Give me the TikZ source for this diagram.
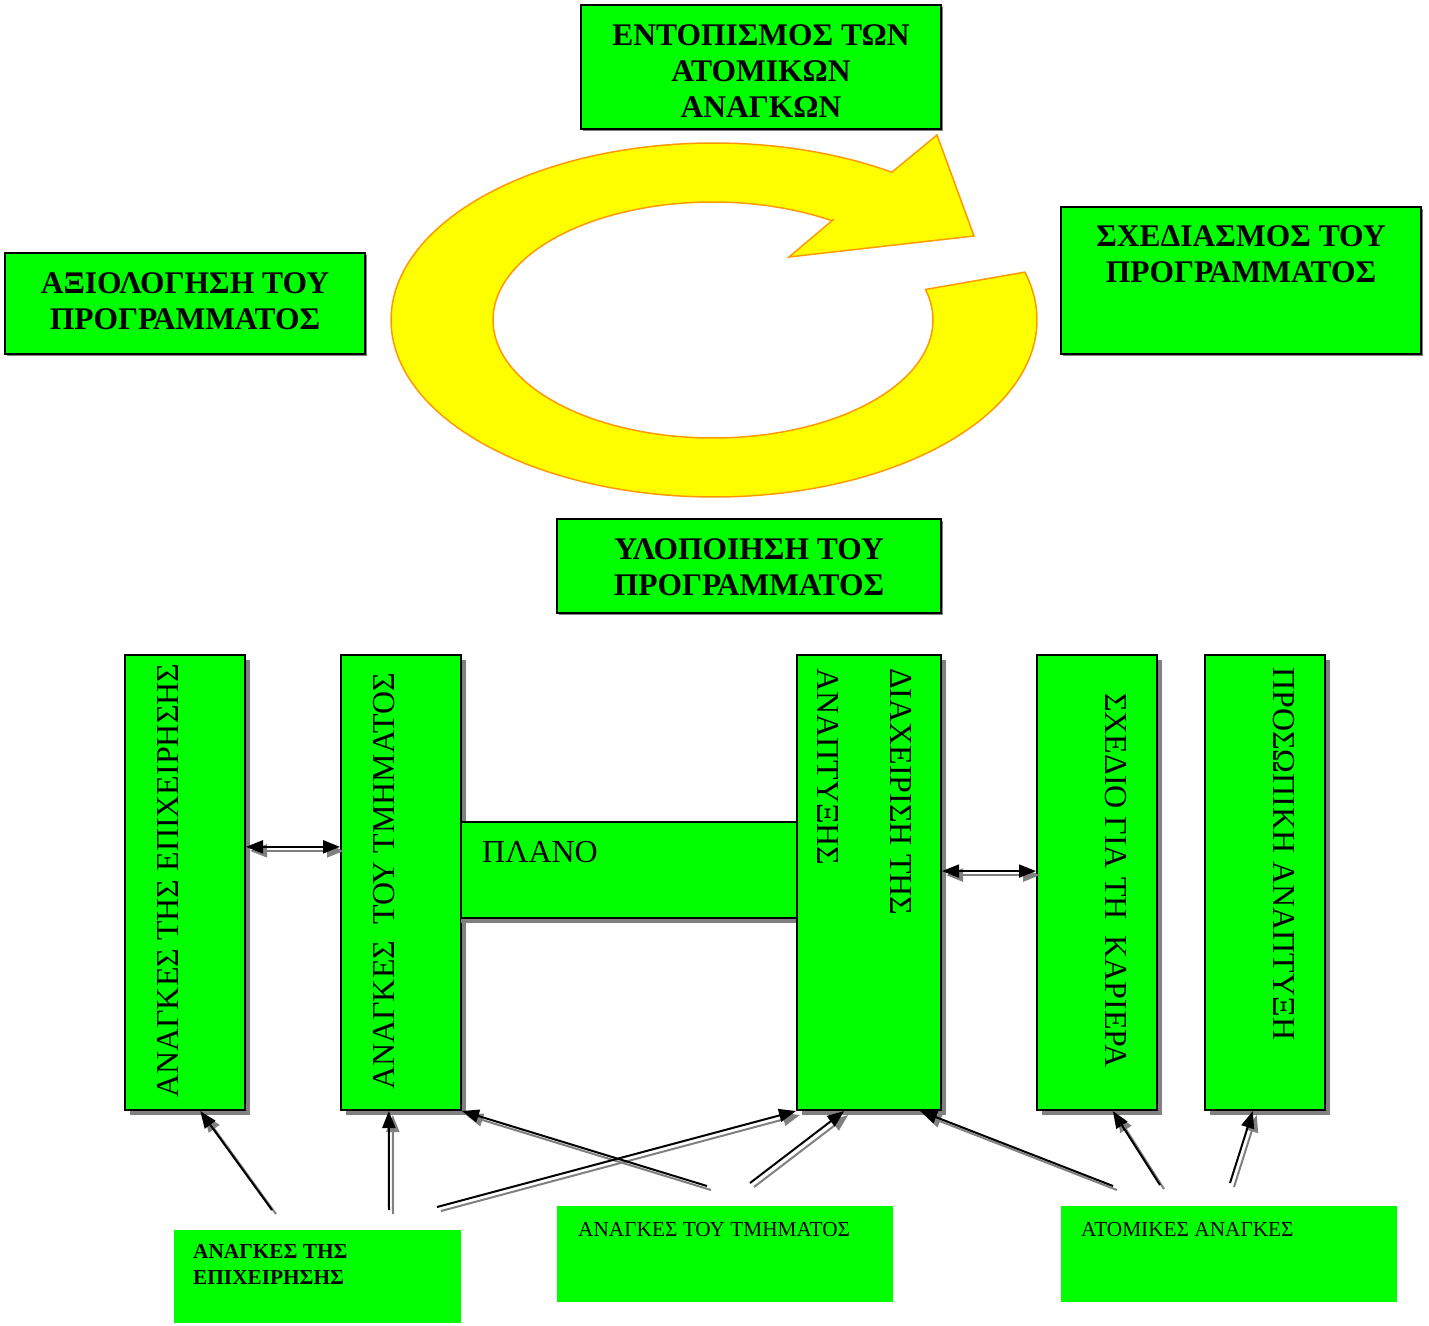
\documentclass[tikz,border=0pt]{standalone}
\usepackage{fontspec}
\setmainfont{Liberation Serif}
\usetikzlibrary{arrows.meta,calc,shadows}
\definecolor{boxgreen}{RGB}{0,255,0}
\definecolor{ringyellow}{RGB}{255,255,0}
\definecolor{ringedge}{RGB}{255,153,0}
\definecolor{shadowgray}{RGB}{128,128,128}

\begin{document}
\begin{tikzpicture}[x=1pt,y=-1pt,>={Triangle[length=17pt,width=13pt]},
    box/.style={draw=black,line width=2pt,fill=boxgreen,inner sep=0pt},
    topbox/.style={box,drop shadow={shadow xshift=2pt,shadow yshift=-2pt,fill=shadowgray,opacity=1}},
    colbox/.style={box,minimum height=455pt,drop shadow={shadow xshift=5pt,shadow yshift=-5pt,fill=shadowgray,opacity=1}},
    needbox/.style={fill=boxgreen,inner sep=0pt},
    bigtxt/.style={font=\fontsize{31.5}{36}\selectfont\bfseries,align=center,inner sep=0pt},
    coltxt/.style={font=\fontsize{32}{36}\selectfont,inner sep=0pt,anchor=base west},
    smalltxt/.style={font=\fontsize{21.3}{26}\selectfont,align=left,inner sep=0pt,anchor=north west},
    link/.style={->,line width=2pt},
    linkshadow/.style={link,shadowgray,transform canvas={xshift=4pt,yshift=-4pt}}]
    \useasboundingbox (0,0) rectangle (1429,1325);

    % 循环的四个阶段
    \node[topbox,minimum width=360pt,minimum height=124pt] (ento) at (761,67) {};
    \node[bigtxt] (entotxt) at (761,71) {ΕΝΤΟΠΙΣΜΟΣ ΤΩΝ\\ΑΤΟΜΙΚΩΝ\\ΑΝΑΓΚΩΝ};
    \node[topbox,minimum width=360pt,minimum height=147pt] (sxed) at (1241,280.5) {};
    \node[bigtxt] (sxedtxt) at (1241,254.5) {ΣΧΕΔΙΑΣΜΟΣ ΤΟΥ\\ΠΡΟΓΡΑΜΜΑΤΟΣ};
    \node[topbox,minimum width=360pt,minimum height=101pt] (axio) at (185,303.5) {};
    \node[bigtxt] (axiotxt) at (185,301.5) {ΑΞΙΟΛΟΓΗΣΗ ΤΟΥ\\ΠΡΟΓΡΑΜΜΑΤΟΣ};
    \node[topbox,minimum width=384pt,minimum height=94pt] (ylop) at (749,566) {};
    \node[bigtxt] (yloptxt) at (749,567.5) {ΥΛΟΠΟΙΗΣΗ ΤΟΥ\\ΠΡΟΓΡΑΜΜΑΤΟΣ};

    % 黄色环形箭头
    \filldraw[fill=ringyellow,draw=ringedge,line width=1.5pt,line join=miter]
        plot[domain=-15.7:303.4,samples=150] ({714+323*cos(\x)},{320+177*sin(\x)})
        -- (937,135) -- (974,236) -- (789,257) -- (834,219)
        -- plot[domain=302.7:-15,samples=150] ({713+220*cos(\x)},{320+118*sin(\x)})
        -- cycle;

    % 竖直方框与中间的横框
    \node[colbox,minimum width=120pt] (epix) at (185,882.5) {};
    \node[colbox,minimum width=120pt] (tmim) at (401,882.5) {};
    \node[box,minimum width=336pt,minimum height=96pt,drop shadow={shadow xshift=0pt,shadow yshift=-5pt,fill=shadowgray,opacity=1}] (plano) at (629,870) {};
    \node[colbox,minimum width=144pt] (diax) at (869,882.5) {};
    \node[colbox,minimum width=120pt] (kari) at (1097,882.5) {};
    \node[colbox,minimum width=120pt] (pros) at (1265,882.5) {};

    \node[coltxt,rotate=90] (epixtxt) at (178,1098) {ΑΝΑΓΚΕΣ ΤΗΣ ΕΠΙΧΕΙΡΗΣΗΣ};
    \node[coltxt,rotate=90] (tmimtxt) at (394,1090) {ΑΝΑΓΚΕΣ\ \ ΤΟΥ ΤΜΗΜΑΤΟΣ};
    \node[coltxt,anchor=west] (planotxt) at (482,852) {ΠΛΑΝΟ};
    \node[coltxt,rotate=-90] (diaxtxt) at (890,668) {ΔΙΑΧΕΙΡΙΣΗ ΤΗΣ};
    \node[coltxt,rotate=-90] (anaptxt) at (817,668) {ΑΝΑΠΤΥΞΗΣ};
    \node[coltxt,rotate=-90] (karitxt) at (1105,693) {ΣΧΕΔΙΟ ΓΙΑ ΤΗ\ \ ΚΑΡΙΕΡΑ};
    \node[coltxt,rotate=-90] (prostxt) at (1273,667) {ΠΡΟΣΩΠΙΚΗ ΑΝΑΠΤΥΞΗ};

    % 底部的三类需要
    \node[needbox,minimum width=287pt,minimum height=93pt] (nepix) at (317.5,1276.5) {};
    \node[smalltxt,font=\fontsize{21.3}{26}\selectfont\bfseries] (nepixtxt) at (193,1244) {ΑΝΑΓΚΕΣ ΤΗΣ\\ΕΠΙΧΕΙΡΗΣΗΣ};
    \node[needbox,minimum width=336pt,minimum height=96pt] (ntmim) at (725,1254) {};
    \node[smalltxt] (ntmimtxt) at (578,1222) {ΑΝΑΓΚΕΣ ΤΟΥ ΤΜΗΜΑΤΟΣ};
    \node[needbox,minimum width=336pt,minimum height=96pt] (natom) at (1229,1254) {};
    \node[smalltxt] (natomtxt) at (1081,1222) {ΑΤΟΜΙΚΕΣ ΑΝΑΓΚΕΣ};

    % 箭头的端点
    \coordinate (a1) at (272,1210);
    \coordinate (a2) at (389,1210);
    \coordinate (a3) at (437,1207);
    \coordinate (a4) at (707,1186);
    \coordinate (a5) at (750,1183);
    \coordinate (a6) at (1113,1186);
    \coordinate (a7) at (1160,1185);
    \coordinate (a8) at (1230,1183);
    \coordinate (b1) at ($(epix.south west)!.625!(epix.south east)$);
    \coordinate (b2) at ($(tmim.south west)!.4!(tmim.south east)$);
    \coordinate (b5) at ($(diax.south west)!.33!(diax.south east)$);
    \coordinate (b6) at ($(diax.south west)!.85!(diax.south east)$);
    \coordinate (b7) at ($(kari.south west)!.63!(kari.south east)$);
    \coordinate (b8) at ($(pros.south west)!.4!(pros.south east)$);
    \coordinate (h1l) at ($(epix.north east)!.422!(epix.south east)$);
    \coordinate (h1r) at ($(tmim.north west)!.422!(tmim.south west)$);
    \coordinate (h2l) at ($(diax.north east)!.475!(diax.south east)$);
    \coordinate (h2r) at ($(kari.north west)!.475!(kari.south west)$);

    % 阴影
    \draw[linkshadow] (a1) -- (b1);
    \draw[linkshadow] (a2) -- (b2);
    \draw[linkshadow] (a3) -- (diax.south west);
    \draw[linkshadow] (a4) -- (tmim.south east);
    \draw[linkshadow] (a5) -- (b5);
    \draw[linkshadow] (a6) -- (b6);
    \draw[linkshadow] (a7) -- (b7);
    \draw[linkshadow] (a8) -- (b8);
    \draw[linkshadow,<->] (h1l) -- (h1r);
    \draw[linkshadow,<->] (h2l) -- (h2r);

    % 箭头
    \draw[link] (a1) -- (b1);
    \draw[link] (a2) -- (b2);
    \draw[link] (a3) -- (diax.south west);
    \draw[link] (a4) -- (tmim.south east);
    \draw[link] (a5) -- (b5);
    \draw[link] (a6) -- (b6);
    \draw[link] (a7) -- (b7);
    \draw[link] (a8) -- (b8);
    \draw[link,<->] (h1l) -- (h1r);
    \draw[link,<->] (h2l) -- (h2r);
\end{tikzpicture}
\end{document}
